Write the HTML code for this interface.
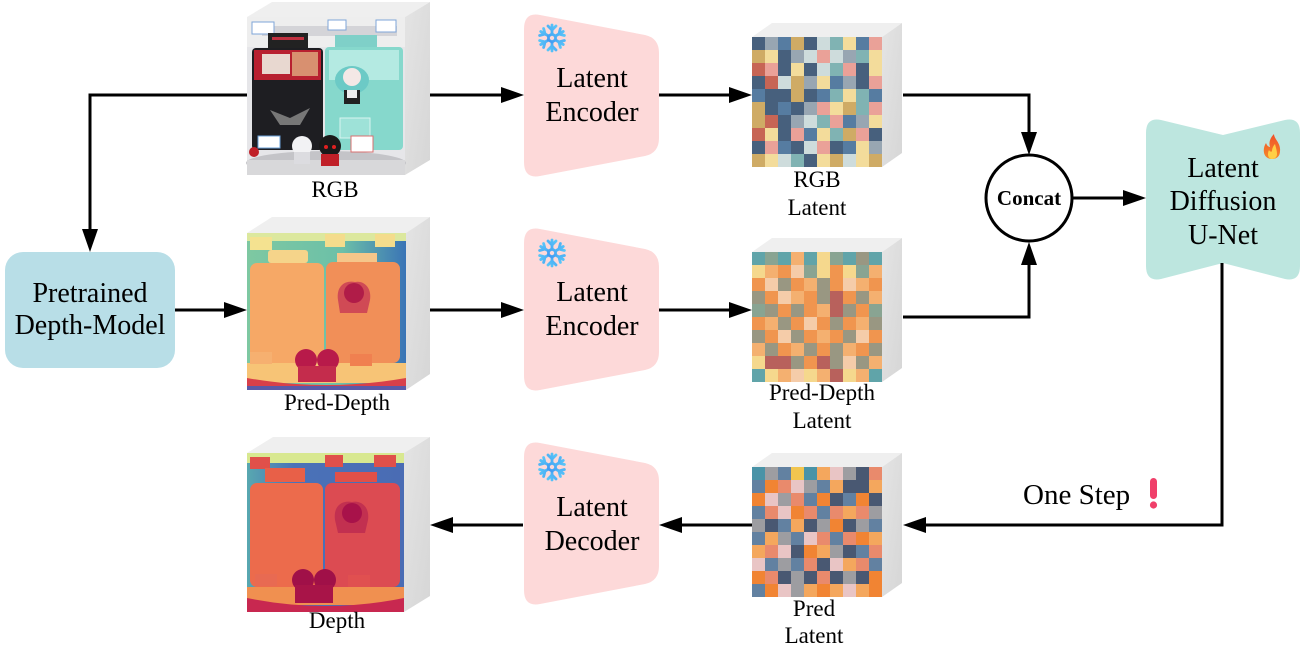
<!DOCTYPE html>
<html><head><meta charset="utf-8"><style>
html,body{margin:0;padding:0;background:#fff;}
svg{display:block;}
text{font-family:"Liberation Serif","Times New Roman",serif;fill:#000;}
.aN{fill:#2e4a6b}.aM{fill:#c9a050}.aT{fill:#6fa9a9}.aR{fill:#c0503e}.aS{fill:#e8958a}.aY{fill:#f2d88e}.aG{fill:#8a9aa8}.aL{fill:#c8d8d8}.aB{fill:#3f6a94}
.bO{fill:#ef8a3c}.bP{fill:#f4c7a0}.bV{fill:#8e8c74}.bE{fill:#7c9a86}.bD{fill:#b0504a}.bY{fill:#f4d480}.bA{fill:#f3a860}.bT{fill:#4f9aa0}.bK{fill:#6a6a70}
.cO{fill:#f07a22}.cN{fill:#3a4a66}.cB{fill:#55779a}.cP{fill:#e8c0c0}.cG{fill:#95959a}.cS{fill:#e88060}.cA{fill:#f3a050}.cT{fill:#3a8aa0}.cY{fill:#f0c040}
</style></head><body>
<svg width="1301" height="663" viewBox="0 0 1301 663" xmlns="http://www.w3.org/2000/svg">
<defs>
<linearGradient id="snowg" gradientUnits="userSpaceOnUse" x1="-12" y1="12" x2="12" y2="-12"><stop offset="0" stop-color="#2b78ee"/><stop offset="1" stop-color="#62d4fa"/></linearGradient>
<linearGradient id="sideg" x1="0" y1="0" x2="1" y2="1"><stop offset="0" stop-color="#e4e4e4"/><stop offset="1" stop-color="#d6d6d6"/></linearGradient>
<linearGradient id="fireg" x1="0" y1="0" x2="0" y2="1"><stop offset="0" stop-color="#f0502a"/><stop offset="1" stop-color="#f58a2a"/></linearGradient>
<linearGradient id="pdbg" x1="0" y1="0" x2="1" y2="0"><stop offset="0" stop-color="#7ec8a2"/><stop offset="0.6" stop-color="#6cc0a8"/><stop offset="1" stop-color="#3a74b6"/></linearGradient>
<linearGradient id="dbg" x1="0" y1="0" x2="1" y2="0"><stop offset="0" stop-color="#58a8b0"/><stop offset="0.3" stop-color="#4a72b8"/><stop offset="1" stop-color="#4a6cb4"/></linearGradient>
</defs>

<!-- ===== CUBES ===== -->
<!-- RGB cube -->
<polygon points="247,17 272,2 430,2 405,17" fill="#efefef"/>
<polygon points="405,17 430,2 430,160 405,175" fill="url(#sideg)"/>
<rect x="247" y="17" width="158" height="158" fill="#e6e6e9"/>
<rect x="247" y="17" width="158" height="30" fill="#eeeeee"/>
<rect x="262" y="26" width="135" height="10" fill="#d4d4d8"/>
<rect x="252" y="22" width="22" height="12" fill="#fff" stroke="#7fa6d8" stroke-width="1"/>
<rect x="328" y="20" width="18" height="10" fill="#fff" stroke="#7fa6d8" stroke-width="1"/>
<rect x="376" y="20" width="20" height="12" fill="#fff" stroke="#7fa6d8" stroke-width="1"/>
<rect x="268" y="33" width="40" height="15" fill="#222"/>
<rect x="272" y="37" width="32" height="3" fill="#c03040"/>
<rect x="335" y="35" width="42" height="12" fill="#7fd0c8"/>
<rect x="252" y="48" width="71" height="102" rx="4" fill="#1e1e22"/>
<rect x="254" y="50" width="67" height="30" fill="#b82030"/>
<rect x="262" y="54" width="28" height="20" fill="#e8d8d0"/>
<rect x="292" y="52" width="26" height="24" fill="#d89070"/>
<path d="M270 110 L290 118 L310 108 L300 125 L280 125 Z" fill="#777"/>
<rect x="325" y="47" width="78" height="103" rx="4" fill="#86d8cc"/>
<rect x="329" y="50" width="70" height="30" fill="#b4eae2"/>
<rect x="340" y="118" width="30" height="20" fill="#9ee2d8" stroke="#d8f4f0" stroke-width="1"/>
<ellipse cx="352" cy="80" rx="17" ry="14" fill="#6ccac6"/>
<circle cx="352" cy="77" r="9" fill="#f4e8e6"/>
<rect x="344" y="90" width="16" height="14" fill="#222"/>
<rect x="347" y="90" width="10" height="8" fill="#eee"/>
<ellipse cx="326" cy="163" rx="80" ry="12" fill="#c4c4c8"/>
<rect x="247" y="160" width="158" height="15" fill="#d8d8da"/>
<circle cx="302" cy="146" r="10" fill="#f2f2f4"/>
<rect x="294" y="152" width="16" height="12" fill="#dcdce0"/>
<circle cx="330" cy="146" r="11" fill="#1a1a1a"/>
<circle cx="326" cy="147" r="2" fill="#e02020"/><circle cx="334" cy="147" r="2" fill="#e02020"/>
<rect x="321" y="154" width="18" height="12" fill="#c02028"/>
<rect x="258" y="136" width="22" height="12" fill="#fff" stroke="#6aa0d8" stroke-width="1"/>
<rect x="351" y="136" width="22" height="16" fill="#fff" stroke="#d87070" stroke-width="1"/>
<circle cx="254" cy="152" r="5" fill="#c02028"/>

<!-- Pred-Depth cube -->
<polygon points="247,233 272,217 430,217 406,233" fill="#efefef"/>
<polygon points="406,233 430,217 430,374 406,390" fill="url(#sideg)"/>
<rect x="247" y="233" width="159" height="157" fill="url(#pdbg)"/>
<rect x="247" y="233" width="159" height="8" fill="#dce89e"/>
<rect x="250" y="237" width="22" height="13" fill="#f4e290"/>
<rect x="325" y="234" width="20" height="13" fill="#f4dc8c"/>
<rect x="375" y="234" width="20" height="13" fill="#f4dc8c"/>
<rect x="268" y="250" width="40" height="13" rx="3" fill="#f5d48a"/>
<rect x="337" y="253" width="40" height="10" fill="#f5c68a"/>
<rect x="250" y="263" width="74" height="100" rx="7" fill="#f6a866"/>
<rect x="326" y="262" width="74" height="101" rx="7" fill="#f18f58"/>
<path d="M338 300 C336 285 346 280 355 282 C364 280 372 288 370 300 L367 313 L340 313 Z" fill="#d04a55"/>
<circle cx="354" cy="293" r="10" fill="#b01c48"/>
<rect x="247" y="363" width="159" height="20" fill="#f7c476"/>
<rect x="250" y="352" width="22" height="12" fill="#f6b070"/>
<rect x="350" y="354" width="22" height="12" fill="#f08050"/>
<path d="M247 378 Q326 392 406 378 L406 390 L247 390 Z" fill="#d8404a"/>
<rect x="247" y="386" width="159" height="4" fill="#5a5aa8"/>
<circle cx="306" cy="360" r="11" fill="#b81a4a"/>
<circle cx="328" cy="360" r="11" fill="#b81a4a"/>
<rect x="298" y="366" width="38" height="16" fill="#c42c4c"/>

<!-- Depth cube -->
<polygon points="247,453 273,437 430,437 404,453" fill="#efefef"/>
<polygon points="404,453 430,437 430,596 404,612" fill="url(#sideg)"/>
<rect x="247" y="453" width="157" height="159" fill="url(#dbg)"/>
<rect x="247" y="453" width="157" height="10" fill="#d8e890"/>
<rect x="250" y="457" width="20" height="12" fill="#e0504a"/>
<rect x="325" y="455" width="18" height="12" fill="#e0504a"/>
<rect x="374" y="455" width="22" height="12" fill="#e0504a"/>
<rect x="265" y="468" width="40" height="14" fill="#e86048"/>
<rect x="335" y="472" width="42" height="10" fill="#e05048"/>
<rect x="250" y="483" width="73" height="104" rx="7" fill="#ec6b4c"/>
<rect x="325" y="483" width="75" height="104" rx="7" fill="#dc4b52"/>
<path d="M335 520 C333 505 343 500 352 502 C361 500 370 507 368 520 L365 533 L338 533 Z" fill="#c23050"/>
<circle cx="352" cy="513" r="10" fill="#a8124a"/>
<rect x="247" y="587" width="157" height="18" fill="#f09050"/>
<path d="M247 598 Q326 614 404 598 L404 612 L247 612 Z" fill="#c82850"/>
<circle cx="303" cy="580" r="11" fill="#a01048"/>
<circle cx="325" cy="580" r="11" fill="#a01048"/>
<rect x="295" y="585" width="38" height="18" fill="#a81448"/>
<rect x="255" y="574" width="22" height="12" fill="#e86a52"/>
<rect x="348" y="575" width="22" height="12" fill="#e05050"/>

<!-- RGB Latent cube -->
<polygon points="752,37 772,23 902,23 882,37" fill="#efefef"/>
<polygon points="882,37 902,23 902,153 882,167" fill="url(#sideg)"/>
<g>
<rect x="752" y="37" width="13" height="13" class="aN"/><rect x="765" y="37" width="13" height="13" class="aG"/><rect x="778" y="37" width="13" height="13" class="aB"/><rect x="791" y="37" width="13" height="13" class="aM"/><rect x="804" y="37" width="13" height="13" class="aN"/><rect x="817" y="37" width="13" height="13" class="aL"/><rect x="830" y="37" width="13" height="13" class="aT"/><rect x="843" y="37" width="13" height="13" class="aY"/><rect x="856" y="37" width="13" height="13" class="aB"/><rect x="869" y="37" width="13" height="13" class="aS"/>
<rect x="752" y="50" width="13" height="13" class="aM"/><rect x="765" y="50" width="13" height="13" class="aY"/><rect x="778" y="50" width="13" height="13" class="aN"/><rect x="791" y="50" width="13" height="13" class="aG"/><rect x="804" y="50" width="13" height="13" class="aL"/><rect x="817" y="50" width="13" height="13" class="aS"/><rect x="830" y="50" width="13" height="13" class="aL"/><rect x="843" y="50" width="13" height="13" class="aG"/><rect x="856" y="50" width="13" height="13" class="aT"/><rect x="869" y="50" width="13" height="13" class="aY"/>
<rect x="752" y="63" width="13" height="13" class="aR"/><rect x="765" y="63" width="13" height="13" class="aS"/><rect x="778" y="63" width="13" height="13" class="aN"/><rect x="791" y="63" width="13" height="13" class="aY"/><rect x="804" y="63" width="13" height="13" class="aN"/><rect x="817" y="63" width="13" height="13" class="aL"/><rect x="830" y="63" width="13" height="13" class="aT"/><rect x="843" y="63" width="13" height="13" class="aS"/><rect x="856" y="63" width="13" height="13" class="aN"/><rect x="869" y="63" width="13" height="13" class="aY"/>
<rect x="752" y="76" width="13" height="13" class="aN"/><rect x="765" y="76" width="13" height="13" class="aR"/><rect x="778" y="76" width="13" height="13" class="aL"/><rect x="791" y="76" width="13" height="13" class="aM"/><rect x="804" y="76" width="13" height="13" class="aG"/><rect x="817" y="76" width="13" height="13" class="aY"/><rect x="830" y="76" width="13" height="13" class="aB"/><rect x="843" y="76" width="13" height="13" class="aG"/><rect x="856" y="76" width="13" height="13" class="aN"/><rect x="869" y="76" width="13" height="13" class="aS"/>
<rect x="752" y="89" width="13" height="13" class="aB"/><rect x="765" y="89" width="13" height="13" class="aN"/><rect x="778" y="89" width="13" height="13" class="aN"/><rect x="791" y="89" width="13" height="13" class="aM"/><rect x="804" y="89" width="13" height="13" class="aN"/><rect x="817" y="89" width="13" height="13" class="aB"/><rect x="830" y="89" width="13" height="13" class="aT"/><rect x="843" y="89" width="13" height="13" class="aY"/><rect x="856" y="89" width="13" height="13" class="aT"/><rect x="869" y="89" width="13" height="13" class="aB"/>
<rect x="752" y="102" width="13" height="13" class="aM"/><rect x="765" y="102" width="13" height="13" class="aN"/><rect x="778" y="102" width="13" height="13" class="aB"/><rect x="791" y="102" width="13" height="13" class="aN"/><rect x="804" y="102" width="13" height="13" class="aG"/><rect x="817" y="102" width="13" height="13" class="aS"/><rect x="830" y="102" width="13" height="13" class="aY"/><rect x="843" y="102" width="13" height="13" class="aM"/><rect x="856" y="102" width="13" height="13" class="aT"/><rect x="869" y="102" width="13" height="13" class="aS"/>
<rect x="752" y="115" width="13" height="13" class="aM"/><rect x="765" y="115" width="13" height="13" class="aR"/><rect x="778" y="115" width="13" height="13" class="aN"/><rect x="791" y="115" width="13" height="13" class="aG"/><rect x="804" y="115" width="13" height="13" class="aL"/><rect x="817" y="115" width="13" height="13" class="aT"/><rect x="830" y="115" width="13" height="13" class="aS"/><rect x="843" y="115" width="13" height="13" class="aB"/><rect x="856" y="115" width="13" height="13" class="aG"/><rect x="869" y="115" width="13" height="13" class="aY"/>
<rect x="752" y="128" width="13" height="13" class="aR"/><rect x="765" y="128" width="13" height="13" class="aY"/><rect x="778" y="128" width="13" height="13" class="aN"/><rect x="791" y="128" width="13" height="13" class="aS"/><rect x="804" y="128" width="13" height="13" class="aB"/><rect x="817" y="128" width="13" height="13" class="aY"/><rect x="830" y="128" width="13" height="13" class="aT"/><rect x="843" y="128" width="13" height="13" class="aM"/><rect x="856" y="128" width="13" height="13" class="aS"/><rect x="869" y="128" width="13" height="13" class="aN"/>
<rect x="752" y="141" width="13" height="13" class="aN"/><rect x="765" y="141" width="13" height="13" class="aS"/><rect x="778" y="141" width="13" height="13" class="aB"/><rect x="791" y="141" width="13" height="13" class="aN"/><rect x="804" y="141" width="13" height="13" class="aL"/><rect x="817" y="141" width="13" height="13" class="aS"/><rect x="830" y="141" width="13" height="13" class="aN"/><rect x="843" y="141" width="13" height="13" class="aB"/><rect x="856" y="141" width="13" height="13" class="aY"/><rect x="869" y="141" width="13" height="13" class="aG"/>
<rect x="752" y="154" width="13" height="13" class="aM"/><rect x="765" y="154" width="13" height="13" class="aY"/><rect x="778" y="154" width="13" height="13" class="aL"/><rect x="791" y="154" width="13" height="13" class="aT"/><rect x="804" y="154" width="13" height="13" class="aN"/><rect x="817" y="154" width="13" height="13" class="aY"/><rect x="830" y="154" width="13" height="13" class="aM"/><rect x="843" y="154" width="13" height="13" class="aL"/><rect x="856" y="154" width="13" height="13" class="aY"/><rect x="869" y="154" width="13" height="13" class="aM"/>
</g>
<rect x="752" y="37" width="130" height="130" fill="#fff" opacity="0.12"/>

<!-- Pred-Depth Latent cube -->
<polygon points="752,252 772,238 902,238 882,252" fill="#efefef"/>
<polygon points="882,252 902,238 902,368 882,382" fill="url(#sideg)"/>
<g>
<rect x="752" y="252" width="13" height="13" class="bT"/><rect x="765" y="252" width="13" height="13" class="bE"/><rect x="778" y="252" width="13" height="13" class="bT"/><rect x="791" y="252" width="13" height="13" class="bA"/><rect x="804" y="252" width="13" height="13" class="bT"/><rect x="817" y="252" width="13" height="13" class="bY"/><rect x="830" y="252" width="13" height="13" class="bE"/><rect x="843" y="252" width="13" height="13" class="bT"/><rect x="856" y="252" width="13" height="13" class="bV"/><rect x="869" y="252" width="13" height="13" class="bT"/>
<rect x="752" y="265" width="13" height="13" class="bY"/><rect x="765" y="265" width="13" height="13" class="bA"/><rect x="778" y="265" width="13" height="13" class="bO"/><rect x="791" y="265" width="13" height="13" class="bP"/><rect x="804" y="265" width="13" height="13" class="bE"/><rect x="817" y="265" width="13" height="13" class="bY"/><rect x="830" y="265" width="13" height="13" class="bO"/><rect x="843" y="265" width="13" height="13" class="bY"/><rect x="856" y="265" width="13" height="13" class="bE"/><rect x="869" y="265" width="13" height="13" class="bA"/>
<rect x="752" y="278" width="13" height="13" class="bO"/><rect x="765" y="278" width="13" height="13" class="bP"/><rect x="778" y="278" width="13" height="13" class="bV"/><rect x="791" y="278" width="13" height="13" class="bO"/><rect x="804" y="278" width="13" height="13" class="bA"/><rect x="817" y="278" width="13" height="13" class="bV"/><rect x="830" y="278" width="13" height="13" class="bO"/><rect x="843" y="278" width="13" height="13" class="bP"/><rect x="856" y="278" width="13" height="13" class="bA"/><rect x="869" y="278" width="13" height="13" class="bO"/>
<rect x="752" y="291" width="13" height="13" class="bV"/><rect x="765" y="291" width="13" height="13" class="bO"/><rect x="778" y="291" width="13" height="13" class="bP"/><rect x="791" y="291" width="13" height="13" class="bA"/><rect x="804" y="291" width="13" height="13" class="bO"/><rect x="817" y="291" width="13" height="13" class="bV"/><rect x="830" y="291" width="13" height="13" class="bD"/><rect x="843" y="291" width="13" height="13" class="bO"/><rect x="856" y="291" width="13" height="13" class="bV"/><rect x="869" y="291" width="13" height="13" class="bA"/>
<rect x="752" y="304" width="13" height="13" class="bE"/><rect x="765" y="304" width="13" height="13" class="bV"/><rect x="778" y="304" width="13" height="13" class="bO"/><rect x="791" y="304" width="13" height="13" class="bV"/><rect x="804" y="304" width="13" height="13" class="bO"/><rect x="817" y="304" width="13" height="13" class="bA"/><rect x="830" y="304" width="13" height="13" class="bD"/><rect x="843" y="304" width="13" height="13" class="bV"/><rect x="856" y="304" width="13" height="13" class="bO"/><rect x="869" y="304" width="13" height="13" class="bE"/>
<rect x="752" y="317" width="13" height="13" class="bO"/><rect x="765" y="317" width="13" height="13" class="bA"/><rect x="778" y="317" width="13" height="13" class="bV"/><rect x="791" y="317" width="13" height="13" class="bO"/><rect x="804" y="317" width="13" height="13" class="bP"/><rect x="817" y="317" width="13" height="13" class="bO"/><rect x="830" y="317" width="13" height="13" class="bV"/><rect x="843" y="317" width="13" height="13" class="bO"/><rect x="856" y="317" width="13" height="13" class="bA"/><rect x="869" y="317" width="13" height="13" class="bV"/>
<rect x="752" y="330" width="13" height="13" class="bV"/><rect x="765" y="330" width="13" height="13" class="bO"/><rect x="778" y="330" width="13" height="13" class="bP"/><rect x="791" y="330" width="13" height="13" class="bV"/><rect x="804" y="330" width="13" height="13" class="bO"/><rect x="817" y="330" width="13" height="13" class="bA"/><rect x="830" y="330" width="13" height="13" class="bO"/><rect x="843" y="330" width="13" height="13" class="bV"/><rect x="856" y="330" width="13" height="13" class="bP"/><rect x="869" y="330" width="13" height="13" class="bO"/>
<rect x="752" y="343" width="13" height="13" class="bA"/><rect x="765" y="343" width="13" height="13" class="bV"/><rect x="778" y="343" width="13" height="13" class="bO"/><rect x="791" y="343" width="13" height="13" class="bA"/><rect x="804" y="343" width="13" height="13" class="bV"/><rect x="817" y="343" width="13" height="13" class="bO"/><rect x="830" y="343" width="13" height="13" class="bV"/><rect x="843" y="343" width="13" height="13" class="bA"/><rect x="856" y="343" width="13" height="13" class="bO"/><rect x="869" y="343" width="13" height="13" class="bV"/>
<rect x="752" y="356" width="13" height="13" class="bY"/><rect x="765" y="356" width="13" height="13" class="bD"/><rect x="778" y="356" width="13" height="13" class="bD"/><rect x="791" y="356" width="13" height="13" class="bV"/><rect x="804" y="356" width="13" height="13" class="bO"/><rect x="817" y="356" width="13" height="13" class="bD"/><rect x="830" y="356" width="13" height="13" class="bV"/><rect x="843" y="356" width="13" height="13" class="bP"/><rect x="856" y="356" width="13" height="13" class="bV"/><rect x="869" y="356" width="13" height="13" class="bA"/>
<rect x="752" y="369" width="13" height="13" class="bT"/><rect x="765" y="369" width="13" height="13" class="bY"/><rect x="778" y="369" width="13" height="13" class="bA"/><rect x="791" y="369" width="13" height="13" class="bP"/><rect x="804" y="369" width="13" height="13" class="bY"/><rect x="817" y="369" width="13" height="13" class="bA"/><rect x="830" y="369" width="13" height="13" class="bD"/><rect x="843" y="369" width="13" height="13" class="bY"/><rect x="856" y="369" width="13" height="13" class="bA"/><rect x="869" y="369" width="13" height="13" class="bT"/>
</g>
<rect x="752" y="252" width="130" height="130" fill="#fff" opacity="0.1"/>

<!-- Pred Latent cube -->
<polygon points="752,467 772,453 902,453 882,467" fill="#efefef"/>
<polygon points="882,467 902,453 902,583 882,597" fill="url(#sideg)"/>
<g>
<rect x="752" y="467" width="13" height="13" class="cT"/><rect x="765" y="467" width="13" height="13" class="cG"/><rect x="778" y="467" width="13" height="13" class="cB"/><rect x="791" y="467" width="13" height="13" class="cY"/><rect x="804" y="467" width="13" height="13" class="cT"/><rect x="817" y="467" width="13" height="13" class="cA"/><rect x="830" y="467" width="13" height="13" class="cP"/><rect x="843" y="467" width="13" height="13" class="cG"/><rect x="856" y="467" width="13" height="13" class="cN"/><rect x="869" y="467" width="13" height="13" class="cS"/>
<rect x="752" y="480" width="13" height="13" class="cB"/><rect x="765" y="480" width="13" height="13" class="cO"/><rect x="778" y="480" width="13" height="13" class="cS"/><rect x="791" y="480" width="13" height="13" class="cP"/><rect x="804" y="480" width="13" height="13" class="cG"/><rect x="817" y="480" width="13" height="13" class="cB"/><rect x="830" y="480" width="13" height="13" class="cA"/><rect x="843" y="480" width="13" height="13" class="cN"/><rect x="856" y="480" width="13" height="13" class="cN"/><rect x="869" y="480" width="13" height="13" class="cA"/>
<rect x="752" y="493" width="13" height="13" class="cO"/><rect x="765" y="493" width="13" height="13" class="cP"/><rect x="778" y="493" width="13" height="13" class="cG"/><rect x="791" y="493" width="13" height="13" class="cS"/><rect x="804" y="493" width="13" height="13" class="cB"/><rect x="817" y="493" width="13" height="13" class="cO"/><rect x="830" y="493" width="13" height="13" class="cN"/><rect x="843" y="493" width="13" height="13" class="cB"/><rect x="856" y="493" width="13" height="13" class="cO"/><rect x="869" y="493" width="13" height="13" class="cN"/>
<rect x="752" y="506" width="13" height="13" class="cB"/><rect x="765" y="506" width="13" height="13" class="cS"/><rect x="778" y="506" width="13" height="13" class="cP"/><rect x="791" y="506" width="13" height="13" class="cO"/><rect x="804" y="506" width="13" height="13" class="cS"/><rect x="817" y="506" width="13" height="13" class="cB"/><rect x="830" y="506" width="13" height="13" class="cS"/><rect x="843" y="506" width="13" height="13" class="cA"/><rect x="856" y="506" width="13" height="13" class="cS"/><rect x="869" y="506" width="13" height="13" class="cG"/>
<rect x="752" y="519" width="13" height="13" class="cG"/><rect x="765" y="519" width="13" height="13" class="cN"/><rect x="778" y="519" width="13" height="13" class="cB"/><rect x="791" y="519" width="13" height="13" class="cA"/><rect x="804" y="519" width="13" height="13" class="cN"/><rect x="817" y="519" width="13" height="13" class="cG"/><rect x="830" y="519" width="13" height="13" class="cO"/><rect x="843" y="519" width="13" height="13" class="cN"/><rect x="856" y="519" width="13" height="13" class="cG"/><rect x="869" y="519" width="13" height="13" class="cB"/>
<rect x="752" y="532" width="13" height="13" class="cB"/><rect x="765" y="532" width="13" height="13" class="cA"/><rect x="778" y="532" width="13" height="13" class="cG"/><rect x="791" y="532" width="13" height="13" class="cB"/><rect x="804" y="532" width="13" height="13" class="cP"/><rect x="817" y="532" width="13" height="13" class="cS"/><rect x="830" y="532" width="13" height="13" class="cB"/><rect x="843" y="532" width="13" height="13" class="cS"/><rect x="856" y="532" width="13" height="13" class="cO"/><rect x="869" y="532" width="13" height="13" class="cA"/>
<rect x="752" y="545" width="13" height="13" class="cA"/><rect x="765" y="545" width="13" height="13" class="cS"/><rect x="778" y="545" width="13" height="13" class="cP"/><rect x="791" y="545" width="13" height="13" class="cN"/><rect x="804" y="545" width="13" height="13" class="cO"/><rect x="817" y="545" width="13" height="13" class="cA"/><rect x="830" y="545" width="13" height="13" class="cG"/><rect x="843" y="545" width="13" height="13" class="cN"/><rect x="856" y="545" width="13" height="13" class="cB"/><rect x="869" y="545" width="13" height="13" class="cS"/>
<rect x="752" y="558" width="13" height="13" class="cP"/><rect x="765" y="558" width="13" height="13" class="cB"/><rect x="778" y="558" width="13" height="13" class="cG"/><rect x="791" y="558" width="13" height="13" class="cB"/><rect x="804" y="558" width="13" height="13" class="cS"/><rect x="817" y="558" width="13" height="13" class="cN"/><rect x="830" y="558" width="13" height="13" class="cP"/><rect x="843" y="558" width="13" height="13" class="cA"/><rect x="856" y="558" width="13" height="13" class="cS"/><rect x="869" y="558" width="13" height="13" class="cB"/>
<rect x="752" y="571" width="13" height="13" class="cO"/><rect x="765" y="571" width="13" height="13" class="cS"/><rect x="778" y="571" width="13" height="13" class="cN"/><rect x="791" y="571" width="13" height="13" class="cG"/><rect x="804" y="571" width="13" height="13" class="cN"/><rect x="817" y="571" width="13" height="13" class="cS"/><rect x="830" y="571" width="13" height="13" class="cN"/><rect x="843" y="571" width="13" height="13" class="cG"/><rect x="856" y="571" width="13" height="13" class="cN"/><rect x="869" y="571" width="13" height="13" class="cO"/>
<rect x="752" y="584" width="13" height="13" class="cB"/><rect x="765" y="584" width="13" height="13" class="cO"/><rect x="778" y="584" width="13" height="13" class="cP"/><rect x="791" y="584" width="13" height="13" class="cG"/><rect x="804" y="584" width="13" height="13" class="cA"/><rect x="817" y="584" width="13" height="13" class="cO"/><rect x="830" y="584" width="13" height="13" class="cA"/><rect x="843" y="584" width="13" height="13" class="cP"/><rect x="856" y="584" width="13" height="13" class="cA"/><rect x="869" y="584" width="13" height="13" class="cO"/>
</g>
<rect x="752" y="467" width="130" height="130" fill="#fff" opacity="0.08"/>

<!-- ===== BOXES ===== -->
<rect x="5" y="252" width="170" height="116" rx="18" fill="#b8dee7"/>
<path d="M524 29 Q524 12 540 15 L645 35 Q659 38 659 53 L659 138 Q659 153 645 156 L540 176 Q524 179 524 162 Z" fill="#fdd9d9"/>
<path d="M524 243 Q524 226 540 229 L645 249 Q659 252 659 267 L659 352 Q659 367 645 370 L540 390 Q524 393 524 376 Z" fill="#fdd9d9"/>
<path d="M524 457 Q524 440 540 443 L645 463 Q659 466 659 481 L659 566 Q659 581 645 584 L540 604 Q524 607 524 590 Z" fill="#fdd9d9"/>
<path d="M1146 133 Q1146 117 1161 120 L1223 135 L1285 120 Q1300 117 1300 133 L1300 266 Q1300 282 1285 279 L1223 263 L1161 279 Q1146 282 1146 266 Z" fill="#bde6df"/>
<circle cx="1029" cy="198" r="43" fill="#fff" stroke="#000" stroke-width="3"/>

<!-- snowflakes -->
<g transform="translate(552,38)" stroke="url(#snowg)" stroke-width="2.8" stroke-linecap="round" fill="none">
<g><line x1="0" y1="-4" x2="0" y2="-13"/><polyline points="-4,-12 0,-8 4,-12"/></g>
<g transform="rotate(60)"><line x1="0" y1="-4" x2="0" y2="-13"/><polyline points="-4,-12 0,-8 4,-12"/></g>
<g transform="rotate(120)"><line x1="0" y1="-4" x2="0" y2="-13"/><polyline points="-4,-12 0,-8 4,-12"/></g>
<g transform="rotate(180)"><line x1="0" y1="-4" x2="0" y2="-13"/><polyline points="-4,-12 0,-8 4,-12"/></g>
<g transform="rotate(240)"><line x1="0" y1="-4" x2="0" y2="-13"/><polyline points="-4,-12 0,-8 4,-12"/></g>
<g transform="rotate(300)"><line x1="0" y1="-4" x2="0" y2="-13"/><polyline points="-4,-12 0,-8 4,-12"/></g>
<polygon points="0,-4 3.5,-2 3.5,2 0,4 -3.5,2 -3.5,-2"/>
</g>
<g transform="translate(552,253)" stroke="url(#snowg)" stroke-width="2.8" stroke-linecap="round" fill="none">
<g><line x1="0" y1="-4" x2="0" y2="-13"/><polyline points="-4,-12 0,-8 4,-12"/></g>
<g transform="rotate(60)"><line x1="0" y1="-4" x2="0" y2="-13"/><polyline points="-4,-12 0,-8 4,-12"/></g>
<g transform="rotate(120)"><line x1="0" y1="-4" x2="0" y2="-13"/><polyline points="-4,-12 0,-8 4,-12"/></g>
<g transform="rotate(180)"><line x1="0" y1="-4" x2="0" y2="-13"/><polyline points="-4,-12 0,-8 4,-12"/></g>
<g transform="rotate(240)"><line x1="0" y1="-4" x2="0" y2="-13"/><polyline points="-4,-12 0,-8 4,-12"/></g>
<g transform="rotate(300)"><line x1="0" y1="-4" x2="0" y2="-13"/><polyline points="-4,-12 0,-8 4,-12"/></g>
<polygon points="0,-4 3.5,-2 3.5,2 0,4 -3.5,2 -3.5,-2"/>
</g>
<g transform="translate(552,467)" stroke="url(#snowg)" stroke-width="2.8" stroke-linecap="round" fill="none">
<g><line x1="0" y1="-4" x2="0" y2="-13"/><polyline points="-4,-12 0,-8 4,-12"/></g>
<g transform="rotate(60)"><line x1="0" y1="-4" x2="0" y2="-13"/><polyline points="-4,-12 0,-8 4,-12"/></g>
<g transform="rotate(120)"><line x1="0" y1="-4" x2="0" y2="-13"/><polyline points="-4,-12 0,-8 4,-12"/></g>
<g transform="rotate(180)"><line x1="0" y1="-4" x2="0" y2="-13"/><polyline points="-4,-12 0,-8 4,-12"/></g>
<g transform="rotate(240)"><line x1="0" y1="-4" x2="0" y2="-13"/><polyline points="-4,-12 0,-8 4,-12"/></g>
<g transform="rotate(300)"><line x1="0" y1="-4" x2="0" y2="-13"/><polyline points="-4,-12 0,-8 4,-12"/></g>
<polygon points="0,-4 3.5,-2 3.5,2 0,4 -3.5,2 -3.5,-2"/>
</g>

<!-- fire -->
<g transform="translate(1272,147)">
<path d="M0 12 C-9 12 -10 2 -6 -4 C-5 -1 -3 0 -2 0 C-4 -6 0 -11 2 -13 C2 -8 9 -4 8 4 C8 9 5 12 0 12 Z" fill="url(#fireg)"/>
<path d="M0 12 C-4 12 -5 7 -3 3 C-2 5 0 5 0 4 C0 1 2 -2 3 -3 C4 1 5 4 5 7 C5 10 3 12 0 12 Z" fill="#ffcf45"/>
</g>

<!-- exclamation -->
<rect x="1150" y="478" width="7" height="21" rx="3.5" fill="#f0406a"/>
<circle cx="1153.5" cy="505" r="3.6" fill="#f0406a"/>

<!-- ===== CONNECTORS ===== -->
<g stroke="#000" stroke-width="3" fill="none">
<line x1="430" y1="95" x2="505" y2="95"/>
<line x1="659" y1="95" x2="733" y2="95"/>
<polyline points="903,95 1029,95 1029,136"/>
<polyline points="247,95 90,95 90,232"/>
<line x1="175" y1="310" x2="228" y2="310"/>
<line x1="430" y1="310" x2="505" y2="310"/>
<line x1="659" y1="310" x2="733" y2="310"/>
<polyline points="903,317 1029,317 1029,262"/>
<line x1="1073" y1="198" x2="1127" y2="198"/>
<polyline points="1222,263 1222,525 922,525"/>
<line x1="752" y1="525" x2="678" y2="525"/>
<line x1="523" y1="525" x2="449" y2="525"/>
</g>
<g fill="#000">
<polygon points="524,95 501,87 501,103"/>
<polygon points="752,95 729,87 729,103"/>
<polygon points="1029,155 1021,132 1037,132"/>
<polygon points="90,252 82,229 98,229"/>
<polygon points="247,310 224,302 224,318"/>
<polygon points="524,310 501,302 501,318"/>
<polygon points="752,310 729,302 729,318"/>
<polygon points="1029,242 1021,265 1037,265"/>
<polygon points="1146,198 1123,190 1123,206"/>
<polygon points="903,525 926,517 926,533"/>
<polygon points="659,525 682,517 682,533"/>
<polygon points="430,525 453,517 453,533"/>
</g>

<!-- ===== TEXT ===== -->
<g font-size="28" text-anchor="middle">
<text x="90" y="302">Pretrained</text>
<text x="90" y="334">Depth-Model</text>
<text x="592" y="87">Latent</text>
<text x="592" y="121">Encoder</text>
<text x="592" y="301">Latent</text>
<text x="592" y="335">Encoder</text>
<text x="592" y="516">Latent</text>
<text x="592" y="550">Decoder</text>
<text x="1223" y="177">Latent</text>
<text x="1223" y="210">Diffusion</text>
<text x="1223" y="244">U-Net</text>
</g>
<text x="1029" y="205" font-size="21" font-weight="bold" text-anchor="middle">Concat</text>
<g font-size="23" text-anchor="middle">
<text x="335" y="197">RGB</text>
<text x="337" y="410">Pred-Depth</text>
<text x="337" y="628">Depth</text>
<text x="817" y="187">RGB</text>
<text x="817" y="215">Latent</text>
<text x="822" y="400">Pred-Depth</text>
<text x="822" y="428">Latent</text>
<text x="814" y="616">Pred</text>
<text x="814" y="643">Latent</text>
</g>
<text x="1023" y="504" font-size="29">One Step</text>
</svg>
</body></html>
